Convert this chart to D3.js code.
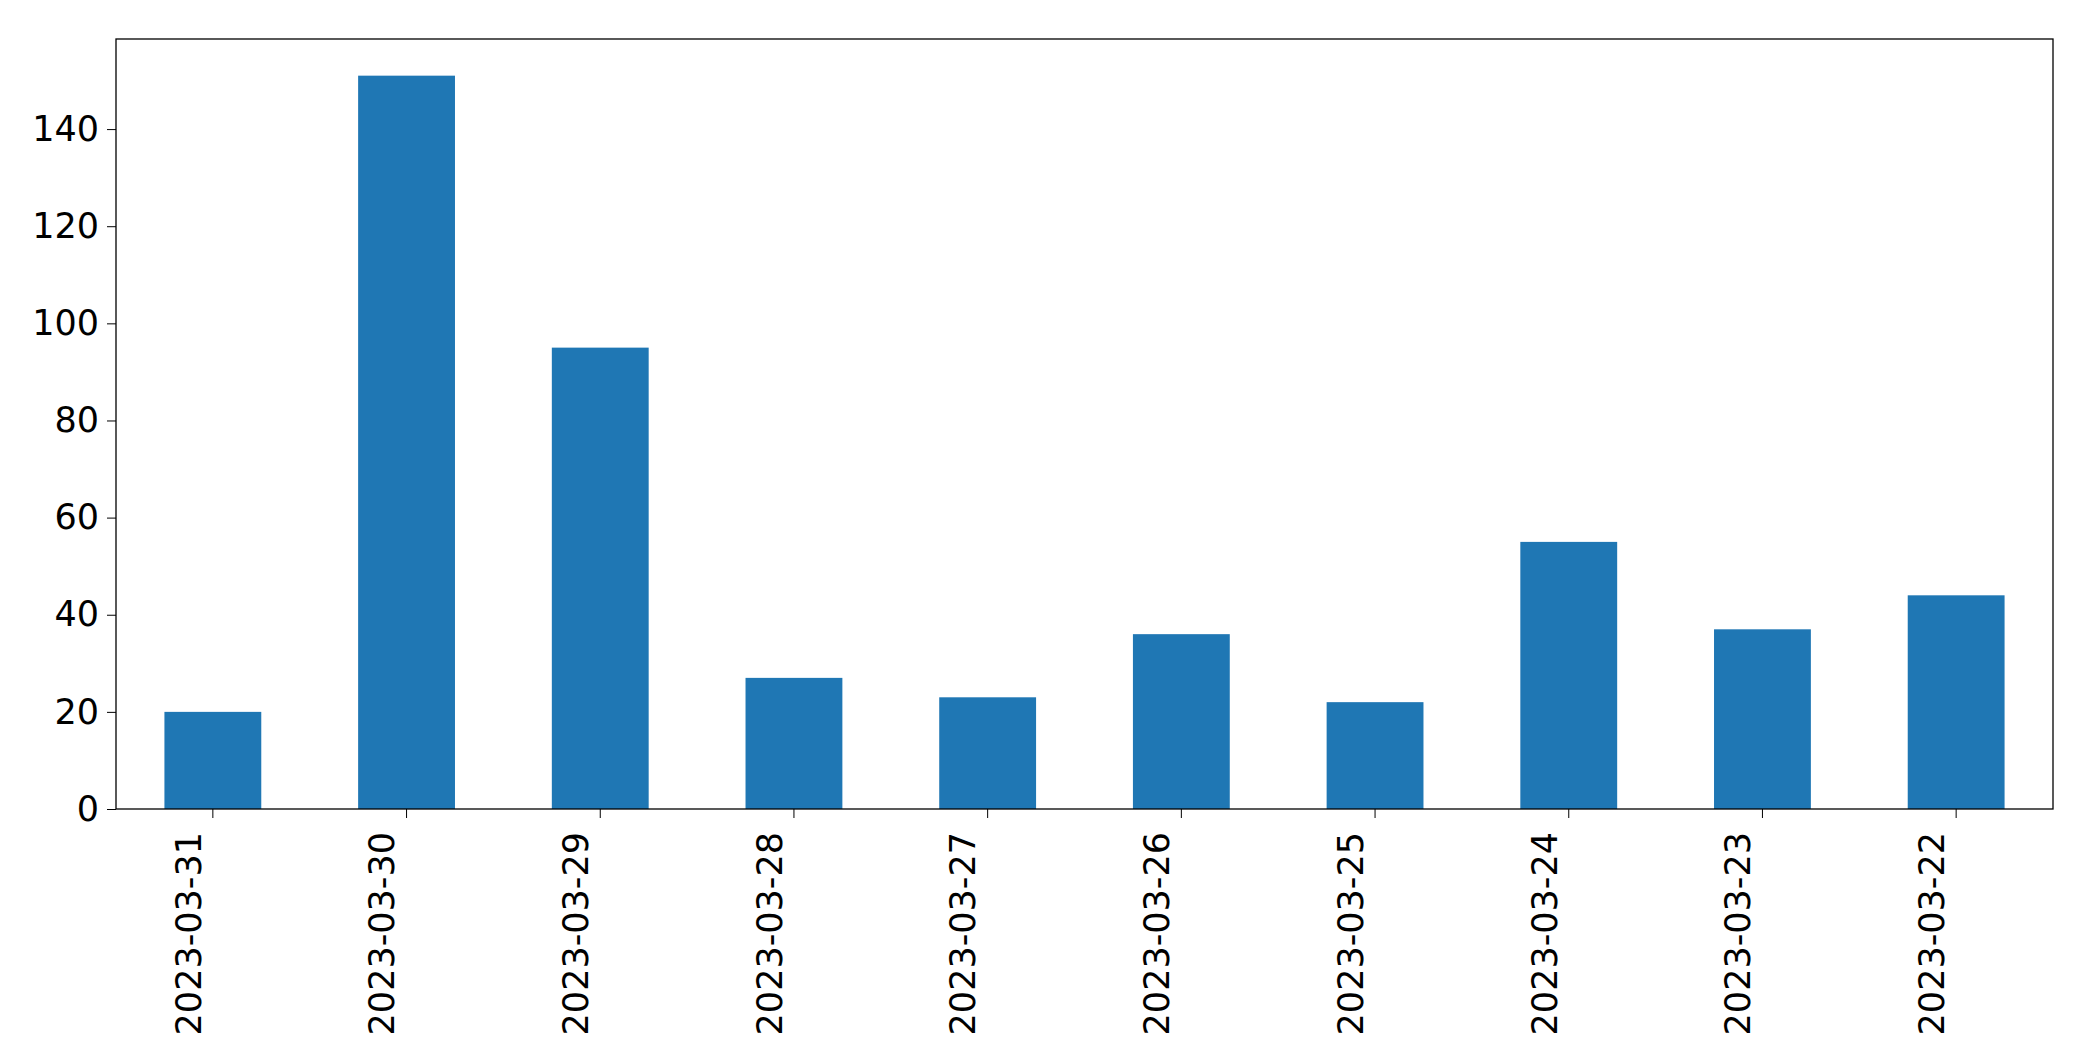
<!DOCTYPE html><html><head><script src="https://cdn.jsdelivr.net/npm/d3@7"></script>
<style>body{margin:0;background:#fff}text{font-family:"DejaVu Sans";}</style></head><body>
<svg id="c" width="2093" height="1061"></svg>
<script>
const categories=["2023-03-31","2023-03-30","2023-03-29","2023-03-28","2023-03-27","2023-03-26","2023-03-25","2023-03-24","2023-03-23","2023-03-22"];
const values=[20,151,95,27,23,36,22,55,37,44];
const yTicks=[0,20,40,60,80,100,120,140];
const m={l:116,r:2053,t:39,b:809};
const svg=d3.select("#c");
const x=d3.scaleBand().domain(categories).range([m.l,m.r]).paddingInner(0.5).paddingOuter(0.25);
const y=d3.scaleLinear().domain([0,d3.max(values)*1.05]).range([m.b,m.t]);
svg.selectAll("rect.bar").data(values).join("rect").attr("class","bar")
 .attr("x",(d,i)=>x(categories[i])).attr("width",x.bandwidth())
 .attr("y",d=>y(d)).attr("height",d=>y(0)-y(d)).attr("fill","#1f77b4");
const ya=svg.append("g").attr("transform",`translate(${m.l},0)`).call(d3.axisLeft(y).tickValues(yTicks).tickSize(9).tickPadding(8));
ya.selectAll("text").attr("font-size",35).attr("font-family","DejaVu Sans").attr("fill","#000");
const xa=svg.append("g").attr("transform",`translate(0,${m.b})`).call(d3.axisBottom(x).tickSize(9).tickPadding(8));
xa.selectAll("text").attr("font-size",35).attr("font-family","DejaVu Sans").attr("fill","#000")
 .attr("transform","rotate(-90)").attr("text-anchor","end").attr("dx","-0.4em").attr("dy","-0.35em").attr("x",-9).attr("y",0);
[ya,xa].forEach(a=>a.select(".domain").remove());
svg.append("rect").attr("x",m.l).attr("y",m.t).attr("width",m.r-m.l).attr("height",m.b-m.t).attr("fill","none").attr("stroke","#000").attr("stroke-width",1.3);
</script></body></html>
